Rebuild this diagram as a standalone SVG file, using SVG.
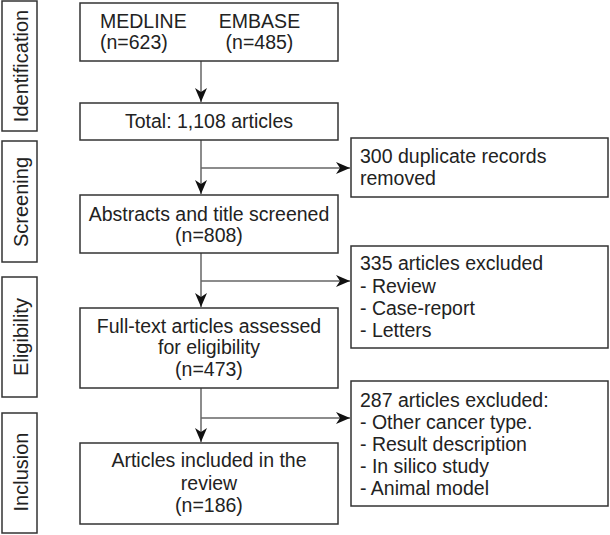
<svg xmlns="http://www.w3.org/2000/svg" width="610" height="535" viewBox="0 0 610 535">
<defs>
<style>
.box{fill:#fff;stroke:#333;stroke-width:1.5}
.t{font-family:"Liberation Sans",Arial,sans-serif;font-size:19.5px;fill:#222}
.s{font-size:20px}
.c{text-anchor:middle}
.ln{fill:none;stroke:#666;stroke-width:1.5}
</style>
<marker id="ah" viewBox="0 0 14 12" refX="14" refY="6" markerWidth="14" markerHeight="12" markerUnits="userSpaceOnUse" orient="auto">
<path d="M0,0 L14,6 L0,12 L4,6 Z" fill="#111"/>
</marker>
</defs>
<rect width="610" height="535" fill="#fff"/>
<g id="stage-identification">
<rect class="box" x="2" y="1" width="35" height="130"/>
<text class="t s c" transform="translate(28,66) rotate(-90)">Identification</text>
</g>
<g id="stage-screening">
<rect class="box" x="2" y="141" width="35" height="121"/>
<text class="t s c" transform="translate(28,202) rotate(-90)">Screening</text>
</g>
<g id="stage-eligibility">
<rect class="box" x="2" y="277" width="35" height="120"/>
<text class="t s c" transform="translate(28,337) rotate(-90)">Eligibility</text>
</g>
<g id="stage-inclusion">
<rect class="box" x="2" y="413" width="35" height="120"/>
<text class="t s c" transform="translate(28,472) rotate(-90)">Inclusion</text>
</g>
<g id="connectors">
<line class="ln" x1="201" y1="61" x2="201" y2="102" marker-end="url(#ah)"/>
<line class="ln" x1="201" y1="140" x2="201" y2="194" marker-end="url(#ah)"/>
<line class="ln" x1="201" y1="168" x2="350" y2="168" marker-end="url(#ah)"/>
<line class="ln" x1="201" y1="253" x2="201" y2="307" marker-end="url(#ah)"/>
<line class="ln" x1="201" y1="281" x2="350" y2="281" marker-end="url(#ah)"/>
<line class="ln" x1="201" y1="388" x2="201" y2="442" marker-end="url(#ah)"/>
<line class="ln" x1="201" y1="418" x2="350" y2="418" marker-end="url(#ah)"/>
</g>
<g id="sources">
<rect class="box" x="80" y="3" width="258" height="58"/>
<text class="t" x="100" y="28">MEDLINE</text>
<text class="t" x="100" y="49">(n=623)</text>
<text class="t c" x="259.5" y="28">EMBASE</text>
<text class="t c" x="259.5" y="49">(n=485)</text>
</g>
<g id="total">
<rect class="box" x="80" y="103" width="258" height="37"/>
<text class="t c" x="209" y="128">Total: 1,108 articles</text>
</g>
<g id="duplicates">
<rect class="box" x="351" y="138" width="257" height="59"/>
<text class="t" x="360" y="163">300 duplicate records</text>
<text class="t" x="360" y="185">removed</text>
</g>
<g id="screened">
<rect class="box" x="80" y="195" width="258" height="58"/>
<text class="t c" x="209" y="221">Abstracts and title screened</text>
<text class="t c" x="209" y="242">(n=808)</text>
</g>
<g id="excluded-1">
<rect class="box" x="351" y="246" width="257" height="102"/>
<text class="t" x="360" y="270">335 articles excluded</text>
<text class="t" x="360" y="292.5">- Review</text>
<text class="t" x="360" y="315">- Case-report</text>
<text class="t" x="360" y="337">- Letters</text>
</g>
<g id="fulltext">
<rect class="box" x="80" y="308" width="258" height="80"/>
<text class="t c" x="209" y="333">Full-text articles assessed</text>
<text class="t c" x="209" y="354">for eligibility</text>
<text class="t c" x="209" y="376">(n=473)</text>
</g>
<g id="excluded-2">
<rect class="box" x="351" y="381" width="257" height="125"/>
<text class="t" x="360" y="407">287 articles excluded:</text>
<text class="t" x="360" y="428.5">- Other cancer type.</text>
<text class="t" x="360" y="450.5">- Result description</text>
<text class="t" x="360" y="472.5">- In silico study</text>
<text class="t" x="360" y="494.5">- Animal model</text>
</g>
<g id="included">
<rect class="box" x="80" y="443" width="258" height="81"/>
<text class="t c" x="209" y="467">Articles included in the</text>
<text class="t c" x="209" y="490">review</text>
<text class="t c" x="209" y="512">(n=186)</text>
</g>
</svg>
